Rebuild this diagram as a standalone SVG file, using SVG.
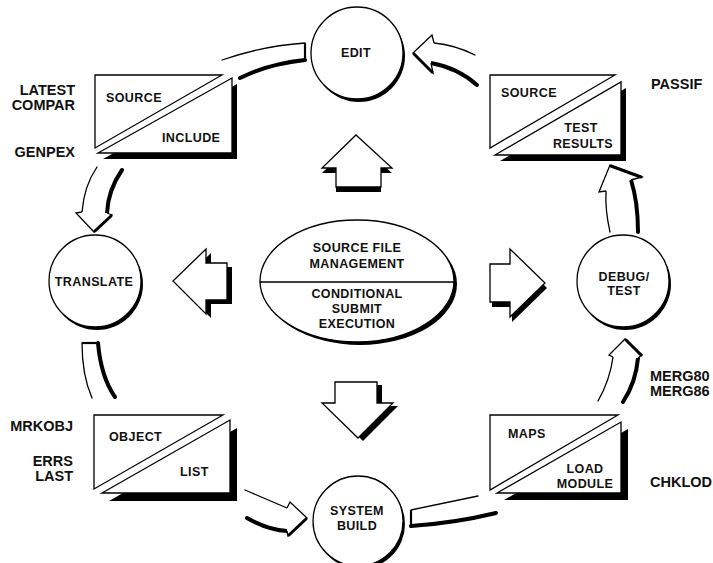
<svg xmlns="http://www.w3.org/2000/svg" xmlns:xlink="http://www.w3.org/1999/xlink" width="713" height="563" viewBox="0 0 713 563">
<style>
.ln{fill:none;stroke:#000;stroke-width:1.3;stroke-linecap:round}
.th{fill:none;stroke:#000;stroke-width:4;stroke-linecap:round}
.hd{fill:#fff;stroke:#000;stroke-width:1.3;stroke-linejoin:miter}
.hs{fill:none;stroke:#000;stroke-width:3;stroke-linecap:round}
.cap{fill:none;stroke:#000;stroke-width:2.2}
.wf{fill:#fff;stroke:#000;stroke-width:1.3;stroke-linejoin:miter}
.sh{fill:#000;stroke:none}
.t{font-family:"Liberation Sans",Arial,Helvetica,sans-serif;font-weight:bold;font-size:12.5px;fill:#111;letter-spacing:0.4px}
.c{text-anchor:middle}
.lb{font-family:"Liberation Sans",Arial,Helvetica,sans-serif;font-weight:bold;font-size:14.5px;fill:#111}
.r{text-anchor:end}
</style>
<defs>
<polygon id="aUp" points="356,135 392,168 381,168 381,187 336,187 336,168 322,168"/>
<polygon id="aLeft" points="173,281 206,249 206,263 227,263 227,300 206,300 206,314"/>
<polygon id="aRight" points="545,283 510,249 510,264 490,264 490,302 510,302 510,317"/>
<polygon id="aDown" points="358,438 393,403 377,403 377,382 335,382 335,403 322,403"/>
</defs>
<rect width="713" height="563" fill="#fff"/>

<g id="connectors">
  <!-- central block arrows -->
  <use xlink:href="#aUp" class="sh" transform="translate(0,5)"/>
  <use xlink:href="#aUp" class="wf"/>
  <use xlink:href="#aLeft" class="sh" transform="translate(5,4)"/>
  <use xlink:href="#aLeft" class="wf"/>
  <use xlink:href="#aRight" class="sh" transform="translate(2,5)"/>
  <use xlink:href="#aRight" class="wf"/>
  <use xlink:href="#aDown" class="sh" transform="translate(5,3)"/>
  <use xlink:href="#aDown" class="wf"/>

  <!-- EDIT -> SOURCE/INCLUDE -->
  <g id="c-edit-src">
    <path class="ln" d="M222,60 Q262,46 305,43"/>
    <path class="th" d="M240,78 Q268,64 305,60"/>
    <path class="cap" d="M305,43 L305,61"/>
  </g>
  <!-- SOURCE/INCLUDE -> TRANSLATE -->
  <g id="c-src-translate">
    <path class="ln" d="M97,167 Q84,186 82,212"/>
    <path class="th" d="M122,170 Q108,190 107,213"/>
    <path class="hd" d="M82,212 L76,213 L94,232 L112,215 L107,213"/>
    <path class="hs" d="M95,231 L111,216"/>
  </g>
  <!-- TRANSLATE -> OBJECT/LIST -->
  <g id="c-translate-obj">
    <path class="cap" d="M82,343 L98,343"/>
    <path class="ln" d="M82,343 Q82,375 92,398"/>
    <path class="th" d="M98,343 Q101,377 115,397"/>
  </g>
  <!-- OBJECT/LIST -> SYSTEM BUILD -->
  <g id="c-obj-build">
    <path class="ln" d="M245,490 Q268,500 287,508"/>
    <path class="th" d="M247,518 Q268,530 287,531"/>
    <path class="hd" d="M287,508 L290,502 L307,518 L288,536 L287,531"/>
    <path class="hs" d="M306,519 L289,535"/>
  </g>
  <!-- SYSTEM BUILD -> MAPS/LOAD MODULE -->
  <g id="c-build-maps">
    <path class="cap" d="M411,510 L411,526"/>
    <path class="ln" d="M411,510 Q445,503 478,496"/>
    <path class="th" d="M411,526 Q455,523 496,513"/>
  </g>
  <!-- MAPS/LOAD MODULE -> DEBUG/TEST -->
  <g id="c-maps-debug">
    <path class="ln" d="M598,401 Q610,380 613,357"/>
    <path class="th" d="M623,402 Q636,382 638,358"/>
    <path class="hd" d="M613,357 L609,355 L625,339 L642,355 L638,358"/>
    <path class="hs" d="M626,340 L641,355"/>
  </g>
  <!-- DEBUG/TEST -> SOURCE/TEST RESULTS -->
  <g id="c-debug-results">
    <path class="ln" d="M610,232 Q605,210 606,191"/>
    <path class="th" d="M638,232 Q638,202 631,180"/>
    <path class="hd" d="M606,191 L599,192 L610,165 L642,177 L631,180"/>
    <path class="hs" d="M611,166 L641,177"/>
  </g>
  <!-- SOURCE/TEST RESULTS -> EDIT -->
  <g id="c-results-edit">
    <path class="ln" d="M434,43 Q455,45 475,55"/>
    <path class="th" d="M431,63 Q458,68 477,85"/>
    <path class="hd" d="M434,43 L432,35 L413,53 L433,73 L431,63"/>
    <path class="hs" d="M414,54 L432,72"/>
  </g>
</g>

<g id="node-edit">
  <circle class="sh" cx="359" cy="56" r="46"/>
  <circle class="wf" cx="357" cy="53" r="46"/>
  <text class="t c" x="356" y="57">EDIT</text>
</g>

<g id="node-translate">
  <circle class="sh" cx="97" cy="284" r="46"/>
  <circle class="wf" cx="95" cy="281" r="46"/>
  <text class="t c" x="94" y="286">TRANSLATE</text>
</g>

<g id="node-debug">
  <circle class="sh" cx="625" cy="284" r="46"/>
  <circle class="wf" cx="623" cy="281" r="46"/>
  <text class="t c" x="624" y="281">DEBUG/</text>
  <text class="t c" x="624" y="295">TEST</text>
</g>

<g id="node-build">
  <circle class="sh" cx="360" cy="524" r="45"/>
  <circle class="wf" cx="358" cy="521" r="45"/>
  <text class="t c" x="357" y="515">SYSTEM</text>
  <text class="t c" x="357" y="530">BUILD</text>
</g>

<g id="node-center">
  <ellipse class="sh" cx="360" cy="284" rx="97" ry="61"/>
  <ellipse class="wf" cx="357" cy="281" rx="97" ry="61"/>
  <line class="ln" x1="260" y1="282" x2="454" y2="282"/>
  <text class="t c" x="357" y="252">SOURCE FILE</text>
  <text class="t c" x="357" y="268">MANAGEMENT</text>
  <text class="t c" x="357" y="298">CONDITIONAL</text>
  <text class="t c" x="357" y="313">SUBMIT</text>
  <text class="t c" x="357" y="328">EXECUTION</text>
</g>

<g id="node-source-include">
  <polygon class="sh" points="103,159 237,84 237,159"/>
  <polygon class="wf" points="98,153 232,78 232,153"/>
  <polygon class="wf" points="95,75 222,75 95,148"/>
  <text class="t" x="106" y="102">SOURCE</text>
  <text class="t" x="162" y="142">INCLUDE</text>
  <text class="lb r" x="75" y="95">LATEST</text>
  <text class="lb r" x="75" y="110">COMPAR</text>
  <text class="lb r" x="75" y="157">GENPEX</text>
</g>

<g id="node-source-results">
  <polygon class="sh" points="500,161 626,88 626,161"/>
  <polygon class="wf" points="495,155 621,82 621,155"/>
  <polygon class="wf" points="490,75 615,75 490,148"/>
  <text class="t" x="501" y="97">SOURCE</text>
  <text class="t c" x="581" y="132">TEST</text>
  <text class="t c" x="583" y="148">RESULTS</text>
  <text class="lb" x="651" y="89">PASSIF</text>
</g>

<g id="node-object-list">
  <polygon class="sh" points="109,501 237,428 237,501"/>
  <polygon class="wf" points="102,493 230,420 230,493"/>
  <polygon class="wf" points="94,415 223,415 94,489"/>
  <text class="t" x="109" y="441">OBJECT</text>
  <text class="t" x="180" y="476">LIST</text>
  <text class="lb r" x="73" y="431">MRKOBJ</text>
  <text class="lb r" x="73" y="466">ERRS</text>
  <text class="lb r" x="73" y="481">LAST</text>
</g>

<g id="node-maps-load">
  <polygon class="sh" points="504,500 628,429 628,500"/>
  <polygon class="wf" points="497,493 621,422 621,493"/>
  <polygon class="wf" points="490,415 618,415 490,490"/>
  <text class="t" x="508" y="438">MAPS</text>
  <text class="t c" x="585" y="473">LOAD</text>
  <text class="t c" x="585" y="488">MODULE</text>
  <text class="lb" x="650" y="487">CHKLOD</text>
  <text class="lb" x="650" y="381">MERG80</text>
  <text class="lb" x="650" y="396">MERG86</text>
</g>
</svg>
